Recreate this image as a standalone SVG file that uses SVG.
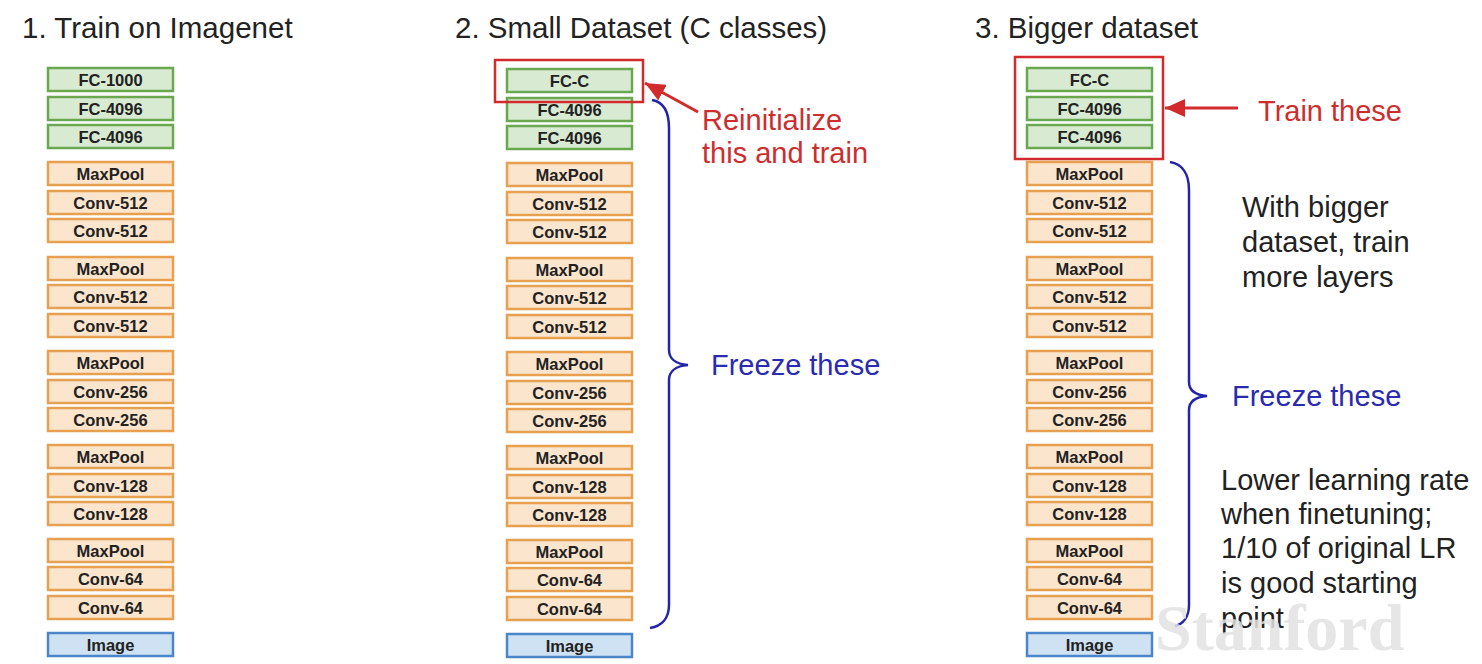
<svg xmlns="http://www.w3.org/2000/svg" width="1482" height="664" viewBox="0 0 1482 664">
<style>
.fc{fill:#d9ead3;stroke:#6aa84f;stroke-width:2.5}
.cv{fill:#fce5cd;stroke:#e6a04f;stroke-width:2.5}
.im{fill:#cfe2f3;stroke:#4a86c8;stroke-width:2.5}
.lb{font-family:"Liberation Sans",Arial,sans-serif;font-weight:bold;font-size:16.5px;fill:#222;text-anchor:middle}
.ti{font-family:"Liberation Sans",Arial,sans-serif;font-size:29.5px;fill:#222}
.red{font-family:"Liberation Sans",Arial,sans-serif;font-size:29px;fill:#cc2e2e}
.blu{font-family:"Liberation Sans",Arial,sans-serif;font-size:29px;fill:#2b2bb0}
.tx{font-family:"Liberation Sans",Arial,sans-serif;font-size:29px;fill:#222}
.rb{fill:none;stroke:#d22b2b;stroke-width:2.5}
.br{fill:none;stroke:#2424a8;stroke-width:2.5}
.ar{stroke:#d22b2b;stroke-width:3;fill:none}
</style>
<defs>
<marker id="ah" markerUnits="userSpaceOnUse" markerWidth="22" markerHeight="18" refX="20" refY="9" orient="auto">
<path d="M0,0 L20,9 L0,18 Z" fill="#d22b2b"/>
</marker>
</defs>
<rect width="1482" height="664" fill="#fff"/>

<g id="titles">
<text class="ti" x="22" y="38">1. Train on Imagenet</text>
<text class="ti" x="455" y="38">2. Small Dataset (C classes)</text>
<text class="ti" x="975" y="38">3. Bigger dataset</text>
</g>

<!-- Column 1 -->
<g id="col1">
<g id="c1-fc1000"><rect class="fc" x="48" y="68" width="125" height="23"/><text class="lb" x="110.5" y="85.5">FC-1000</text></g>
<g id="c1-fc4096a"><rect class="fc" x="48" y="97" width="125" height="23"/><text class="lb" x="110.5" y="114.5">FC-4096</text></g>
<g id="c1-fc4096b"><rect class="fc" x="48" y="125" width="125" height="23"/><text class="lb" x="110.5" y="142.5">FC-4096</text></g>
<g id="c1-mp1"><rect class="cv" x="48" y="162" width="125" height="23"/><text class="lb" x="110.5" y="179.5">MaxPool</text></g>
<g id="c1-c512a"><rect class="cv" x="48" y="191" width="125" height="23"/><text class="lb" x="110.5" y="208.5">Conv-512</text></g>
<g id="c1-c512b"><rect class="cv" x="48" y="219" width="125" height="23"/><text class="lb" x="110.5" y="236.5">Conv-512</text></g>
<g id="c1-mp2"><rect class="cv" x="48" y="257" width="125" height="23"/><text class="lb" x="110.5" y="274.5">MaxPool</text></g>
<g id="c1-c512c"><rect class="cv" x="48" y="285" width="125" height="23"/><text class="lb" x="110.5" y="302.5">Conv-512</text></g>
<g id="c1-c512d"><rect class="cv" x="48" y="314" width="125" height="23"/><text class="lb" x="110.5" y="331.5">Conv-512</text></g>
<g id="c1-mp3"><rect class="cv" x="48" y="351" width="125" height="23"/><text class="lb" x="110.5" y="368.5">MaxPool</text></g>
<g id="c1-c256a"><rect class="cv" x="48" y="380" width="125" height="23"/><text class="lb" x="110.5" y="397.5">Conv-256</text></g>
<g id="c1-c256b"><rect class="cv" x="48" y="408" width="125" height="23"/><text class="lb" x="110.5" y="425.5">Conv-256</text></g>
<g id="c1-mp4"><rect class="cv" x="48" y="445" width="125" height="23"/><text class="lb" x="110.5" y="462.5">MaxPool</text></g>
<g id="c1-c128a"><rect class="cv" x="48" y="474" width="125" height="23"/><text class="lb" x="110.5" y="491.5">Conv-128</text></g>
<g id="c1-c128b"><rect class="cv" x="48" y="502" width="125" height="23"/><text class="lb" x="110.5" y="519.5">Conv-128</text></g>
<g id="c1-mp5"><rect class="cv" x="48" y="539" width="125" height="23"/><text class="lb" x="110.5" y="556.5">MaxPool</text></g>
<g id="c1-c64a"><rect class="cv" x="48" y="567" width="125" height="23"/><text class="lb" x="110.5" y="584.5">Conv-64</text></g>
<g id="c1-c64b"><rect class="cv" x="48" y="596" width="125" height="23"/><text class="lb" x="110.5" y="613.5">Conv-64</text></g>
<g id="c1-image"><rect class="im" x="48" y="633" width="125" height="23"/><text class="lb" x="110.5" y="650.5">Image</text></g>
</g>

<!-- Column 2 -->
<g id="col2">
<g id="c2-fcc"><rect class="fc" x="507" y="69" width="125" height="23"/><text class="lb" x="569.5" y="86.5">FC-C</text></g>
<g id="c2-fc4096a"><rect class="fc" x="507" y="98" width="125" height="23"/><text class="lb" x="569.5" y="115.5">FC-4096</text></g>
<g id="c2-fc4096b"><rect class="fc" x="507" y="126" width="125" height="23"/><text class="lb" x="569.5" y="143.5">FC-4096</text></g>
<g id="c2-mp1"><rect class="cv" x="507" y="163" width="125" height="23"/><text class="lb" x="569.5" y="180.5">MaxPool</text></g>
<g id="c2-c512a"><rect class="cv" x="507" y="192" width="125" height="23"/><text class="lb" x="569.5" y="209.5">Conv-512</text></g>
<g id="c2-c512b"><rect class="cv" x="507" y="220" width="125" height="23"/><text class="lb" x="569.5" y="237.5">Conv-512</text></g>
<g id="c2-mp2"><rect class="cv" x="507" y="258" width="125" height="23"/><text class="lb" x="569.5" y="275.5">MaxPool</text></g>
<g id="c2-c512c"><rect class="cv" x="507" y="286" width="125" height="23"/><text class="lb" x="569.5" y="303.5">Conv-512</text></g>
<g id="c2-c512d"><rect class="cv" x="507" y="315" width="125" height="23"/><text class="lb" x="569.5" y="332.5">Conv-512</text></g>
<g id="c2-mp3"><rect class="cv" x="507" y="352" width="125" height="23"/><text class="lb" x="569.5" y="369.5">MaxPool</text></g>
<g id="c2-c256a"><rect class="cv" x="507" y="381" width="125" height="23"/><text class="lb" x="569.5" y="398.5">Conv-256</text></g>
<g id="c2-c256b"><rect class="cv" x="507" y="409" width="125" height="23"/><text class="lb" x="569.5" y="426.5">Conv-256</text></g>
<g id="c2-mp4"><rect class="cv" x="507" y="446" width="125" height="23"/><text class="lb" x="569.5" y="463.5">MaxPool</text></g>
<g id="c2-c128a"><rect class="cv" x="507" y="475" width="125" height="23"/><text class="lb" x="569.5" y="492.5">Conv-128</text></g>
<g id="c2-c128b"><rect class="cv" x="507" y="503" width="125" height="23"/><text class="lb" x="569.5" y="520.5">Conv-128</text></g>
<g id="c2-mp5"><rect class="cv" x="507" y="540" width="125" height="23"/><text class="lb" x="569.5" y="557.5">MaxPool</text></g>
<g id="c2-c64a"><rect class="cv" x="507" y="568" width="125" height="23"/><text class="lb" x="569.5" y="585.5">Conv-64</text></g>
<g id="c2-c64b"><rect class="cv" x="507" y="597" width="125" height="23"/><text class="lb" x="569.5" y="614.5">Conv-64</text></g>
<g id="c2-image"><rect class="im" x="507" y="634" width="125" height="23"/><text class="lb" x="569.5" y="651.5">Image</text></g>
<g id="c2-redbox"><rect class="rb" x="495" y="60" width="148" height="42"/></g>
<g id="c2-reinit"><text class="red" x="702" y="130">Reinitialize</text><text class="red" x="702" y="163">this and train</text></g>
<g id="c2-freeze"><text class="blu" x="711" y="375">Freeze these</text></g>
</g>

<!-- Column 3 -->
<g id="col3">
<g id="c3-fcc"><rect class="fc" x="1027" y="68" width="125" height="23"/><text class="lb" x="1089.5" y="85.5">FC-C</text></g>
<g id="c3-fc4096a"><rect class="fc" x="1027" y="97" width="125" height="23"/><text class="lb" x="1089.5" y="114.5">FC-4096</text></g>
<g id="c3-fc4096b"><rect class="fc" x="1027" y="125" width="125" height="23"/><text class="lb" x="1089.5" y="142.5">FC-4096</text></g>
<g id="c3-mp1"><rect class="cv" x="1027" y="162" width="125" height="23"/><text class="lb" x="1089.5" y="179.5">MaxPool</text></g>
<g id="c3-c512a"><rect class="cv" x="1027" y="191" width="125" height="23"/><text class="lb" x="1089.5" y="208.5">Conv-512</text></g>
<g id="c3-c512b"><rect class="cv" x="1027" y="219" width="125" height="23"/><text class="lb" x="1089.5" y="236.5">Conv-512</text></g>
<g id="c3-mp2"><rect class="cv" x="1027" y="257" width="125" height="23"/><text class="lb" x="1089.5" y="274.5">MaxPool</text></g>
<g id="c3-c512c"><rect class="cv" x="1027" y="285" width="125" height="23"/><text class="lb" x="1089.5" y="302.5">Conv-512</text></g>
<g id="c3-c512d"><rect class="cv" x="1027" y="314" width="125" height="23"/><text class="lb" x="1089.5" y="331.5">Conv-512</text></g>
<g id="c3-mp3"><rect class="cv" x="1027" y="351" width="125" height="23"/><text class="lb" x="1089.5" y="368.5">MaxPool</text></g>
<g id="c3-c256a"><rect class="cv" x="1027" y="380" width="125" height="23"/><text class="lb" x="1089.5" y="397.5">Conv-256</text></g>
<g id="c3-c256b"><rect class="cv" x="1027" y="408" width="125" height="23"/><text class="lb" x="1089.5" y="425.5">Conv-256</text></g>
<g id="c3-mp4"><rect class="cv" x="1027" y="445" width="125" height="23"/><text class="lb" x="1089.5" y="462.5">MaxPool</text></g>
<g id="c3-c128a"><rect class="cv" x="1027" y="474" width="125" height="23"/><text class="lb" x="1089.5" y="491.5">Conv-128</text></g>
<g id="c3-c128b"><rect class="cv" x="1027" y="502" width="125" height="23"/><text class="lb" x="1089.5" y="519.5">Conv-128</text></g>
<g id="c3-mp5"><rect class="cv" x="1027" y="539" width="125" height="23"/><text class="lb" x="1089.5" y="556.5">MaxPool</text></g>
<g id="c3-c64a"><rect class="cv" x="1027" y="567" width="125" height="23"/><text class="lb" x="1089.5" y="584.5">Conv-64</text></g>
<g id="c3-c64b"><rect class="cv" x="1027" y="596" width="125" height="23"/><text class="lb" x="1089.5" y="613.5">Conv-64</text></g>
<g id="c3-image"><rect class="im" x="1027" y="633" width="125" height="23"/><text class="lb" x="1089.5" y="650.5">Image</text></g>
<g id="c3-redbox"><rect class="rb" x="1015" y="57" width="148" height="102"/></g>
<g id="c3-train"><text class="red" x="1258" y="121">Train these</text></g>
<g id="c3-bigger"><text class="tx" x="1242" y="217">With bigger</text><text class="tx" x="1242" y="252">dataset, train</text><text class="tx" x="1242" y="287">more layers</text></g>
<g id="c3-freeze"><text class="blu" x="1232" y="406">Freeze these</text></g>
<g id="c3-lr"><text class="tx" x="1221" y="490">Lower learning rate</text><text class="tx" x="1221" y="524">when finetuning;</text><text class="tx" x="1221" y="558">1/10 of original LR</text><text class="tx" x="1221" y="593">is good starting</text><text class="tx" x="1221" y="628">point</text></g>
</g>

<g id="connectors">
<line class="ar" x1="698" y1="112" x2="645" y2="83" marker-end="url(#ah)"/>
<line class="ar" x1="1238" y1="108" x2="1165" y2="108" marker-end="url(#ah)"/>
<path class="br" d="M652,100 C664,102 669,112 669,128 L669,350 C669,358 675,364 688,365 C675,366 669,372 669,380 L669,605 C669,618 662,626 650,628"/>
<path class="br" d="M1170,162 C1183,164 1189,175 1189,190 L1189,382 C1189,390 1195,395 1207,396 C1195,397 1189,402 1189,410 L1189,605 C1189,617 1183,624 1175,626"/>
</g>

<g id="watermark"><text x="1155" y="650" font-family="'Liberation Serif','Times New Roman',serif" font-weight="bold" font-size="66" fill="#e2e2e2" fill-opacity="0.85">Stanford</text></g>
</svg>
